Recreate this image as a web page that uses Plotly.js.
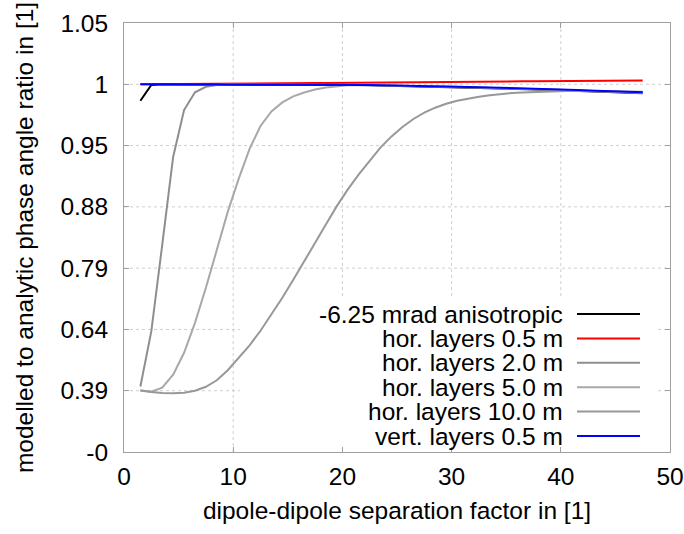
<!DOCTYPE html>
<html>
<head>
<meta charset="utf-8">
<script src="https://cdn.plot.ly/plotly-3.0.1.min.js"></script>
<style>
  html, body { margin: 0; padding: 0; background: #ffffff; }
  #chart { width: 684px; height: 534px; }
</style>
</head>
<body>
<div id="chart"></div>
<script>
// dipole-dipole separation factor
const separation = [
  1.5, 2.5, 3.5, 4.5, 5.5, 6.5, 7.5, 8.5, 9.5, 10.5,
  11.5, 12.5, 13.5, 14.5, 15.5, 16.5, 17.5, 18.5, 19.5, 20.5,
  21.5, 22.5, 23.5, 24.5, 25.5, 26.5, 27.5, 28.5, 29.5, 30.5,
  31.5, 32.5, 33.5, 34.5, 35.5, 36.5, 37.5, 38.5, 39.5, 40.5,
  41.5, 42.5, 43.5, 44.5, 45.5, 46.5, 47.5
];

// modelled / analytic phase angle ratio for each model
const anisotropic = [
  0.9866, 0.9995, 1, 1, 1, 1, 1, 1, 1, 1,
  1, 1, 1, 1, 1, 1.0000, 0.9999, 0.9998, 0.9997, 0.9996,
  0.9994, 0.9993, 0.9991, 0.9990, 0.9988, 0.9986, 0.9984, 0.9982, 0.9980, 0.9978,
  0.9975, 0.9973, 0.9970, 0.9968, 0.9965, 0.9962, 0.9959, 0.9957, 0.9954, 0.9950,
  0.9947, 0.9944, 0.9941, 0.9937, 0.9934, 0.9931, 0.9927
];
const horLayers05 = [
  1.0000, 1.0001, 1.0001, 1.0002, 1.0003, 1.0003, 1.0004, 1.0005, 1.0005, 1.0006,
  1.0007, 1.0007, 1.0008, 1.0009, 1.0009, 1.0010, 1.0011, 1.0011, 1.0012, 1.0013,
  1.0013, 1.0014, 1.0015, 1.0016, 1.0016, 1.0017, 1.0018, 1.0018, 1.0019, 1.0020,
  1.0020, 1.0021, 1.0022, 1.0022, 1.0023, 1.0024, 1.0024, 1.0025, 1.0026, 1.0026,
  1.0027, 1.0028, 1.0028, 1.0029, 1.0030, 1.0030, 1.0031
];
const horLayers20 = [
  0.407, 0.632, 0.824, 0.937, 0.979, 0.9935, 0.998, 0.9995, 1, 1,
  1, 1, 1, 1, 1, 1.0000, 0.9999, 0.9998, 0.9997, 0.9996,
  0.9995, 0.9994, 0.9992, 0.9990, 0.9988, 0.9987, 0.9985, 0.9983, 0.9981, 0.9979,
  0.9977, 0.9975, 0.9972, 0.9969, 0.9967, 0.9964, 0.9961, 0.9959, 0.9956, 0.9953,
  0.9950, 0.9947, 0.9944, 0.9940, 0.9937, 0.9934, 0.9931
];
const horLayers50 = [
  0.390, 0.3834, 0.4021, 0.4551, 0.5448, 0.6562, 0.7419, 0.8169, 0.8726, 0.9119,
  0.9462, 0.9660, 0.9778, 0.9852, 0.9901, 0.9933, 0.9958, 0.9974, 0.9986, 0.9993,
  0.9995, 0.9994, 0.9992, 0.9990, 0.9988, 0.9987, 0.9985, 0.9983, 0.9981, 0.9979,
  0.9977, 0.9975, 0.9972, 0.9969, 0.9967, 0.9964, 0.9961, 0.9959, 0.9956, 0.9953,
  0.9950, 0.9947, 0.9944, 0.9940, 0.9937, 0.9934, 0.9931
];
const horLayers100 = [
  0.392, 0.3815, 0.3758, 0.3739, 0.3771, 0.3898, 0.4062, 0.4327, 0.4734, 0.5224,
  0.5753, 0.6345, 0.6758, 0.7174, 0.7614, 0.7993, 0.8264, 0.8543, 0.8811, 0.9000,
  0.9171, 0.9331, 0.9479, 0.9575, 0.9652, 0.9717, 0.9769, 0.9809, 0.9841, 0.9866,
  0.9884, 0.9899, 0.9911, 0.9921, 0.9928, 0.9933, 0.9937, 0.9941, 0.9943, 0.9945,
  0.9945, 0.9945, 0.9945, 0.9943, 0.9942, 0.9941, 0.9939
];
const vertLayers05 = [
  1, 1, 1, 1, 1, 1, 1, 1, 1, 1,
  1, 1, 1, 1, 1, 1.0000, 0.9999, 0.9998, 0.9997, 0.9996,
  0.9995, 0.9994, 0.9992, 0.9991, 0.9989, 0.9988, 0.9986, 0.9984, 0.9982, 0.9980,
  0.9978, 0.9976, 0.9974, 0.9971, 0.9969, 0.9966, 0.9964, 0.9961, 0.9959, 0.9956,
  0.9953, 0.9950, 0.9947, 0.9944, 0.9941, 0.9938, 0.9935
];

const seriesNames = [
  '-6.25 mrad anisotropic',
  'hor. layers 0.5 m',
  'hor. layers 2.0 m',
  'hor. layers 5.0 m',
  'hor. layers 10.0 m',
  'vert. layers 0.5 m'
];

// ratio axis: the tick values sit at equal spacing, the axis is stretched towards 1
const yTickValues = [0, 0.39, 0.64, 0.79, 0.88, 0.95, 1, 1.05];
const yTickLabels = ['-0', '0.39', '0.64', '0.79', '0.88', '0.95', '1', '1.05'];
const xTickValues = [0, 10, 20, 30, 40, 50];

// map a ratio onto the stretched axis (piecewise linear between tick values)
function stretch(v) {
  const n = yTickValues.length;
  if (v <= yTickValues[0]) return 0;
  for (let i = 1; i < n; i++) {
    if (v <= yTickValues[i]) {
      return (i - 1) + (v - yTickValues[i - 1]) / (yTickValues[i] - yTickValues[i - 1]);
    }
  }
  return (n - 1) + (v - yTickValues[n - 1]) / (yTickValues[n - 1] - yTickValues[n - 2]);
}

const seriesValues = [anisotropic, horLayers05, horLayers20, horLayers50, horLayers100, vertLayers05];
const seriesColors = ['#000000', '#ff0000', '#8e8e8e', '#a8a8a8', '#989898', '#0000ff'];

const traces = seriesValues.map((vals, i) => ({
  type: 'scatter',
  mode: 'lines',
  name: seriesNames[i],
  x: separation,
  y: vals.map(stretch),
  line: { color: seriesColors[i], width: 2 },
  showlegend: false,
  hoverinfo: 'skip'
}));

// plot box in pixels
const M = { l: 124, r: 14, t: 23, b: 82 };
const W = 684, H = 534;
const plotW = W - M.l - M.r, plotH = H - M.t - M.b;
const px2x = px => (px - M.l) / plotW;
const px2y = py => (H - M.b - py) / plotH;

const FONT = 'Liberation Sans, Arial, Helvetica, sans-serif';
const FS = 24.5;

// dotted grid, drawn under the key box
const gridStyle = { color: '#cfcfcf', width: 1, dash: 'dot' };
const shapes = [];
xTickValues.slice(1, -1).forEach(v => shapes.push({
  type: 'line', xref: 'x', yref: 'paper', layer: 'below',
  x0: v, x1: v, y0: 0, y1: 1, line: gridStyle
}));
yTickValues.slice(1, -1).forEach((v, i) => shapes.push({
  type: 'line', xref: 'paper', yref: 'y', layer: 'below',
  x0: 0, x1: 1, y0: i + 1, y1: i + 1, line: gridStyle
}));

// key: right-aligned labels with a line sample on their right, on a white box
shapes.push({
  type: 'rect', xref: 'paper', yref: 'paper', layer: 'below',
  x0: px2x(240), x1: px2x(656), y0: 0, y1: px2y(299),
  fillcolor: '#ffffff', line: { width: 0 }
});
const keyTop = 314, keyStep = 24.4;
const annotations = [];
seriesNames.forEach((name, i) => {
  const py = keyTop + i * keyStep;
  annotations.push({
    xref: 'paper', yref: 'paper', x: px2x(565), y: px2y(py),
    xanchor: 'right', yanchor: 'middle', showarrow: false,
    text: name, font: { family: FONT, size: FS, color: '#000000' }
  });
  shapes.push({
    type: 'line', xref: 'paper', yref: 'paper', layer: 'above',
    x0: px2x(577), x1: px2x(640), y0: px2y(py), y1: px2y(py),
    line: { color: seriesColors[i], width: 2 }
  });
});

const axisCommon = {
  showline: true, linecolor: '#a0a0a0', linewidth: 1, mirror: 'ticks',
  ticks: 'inside', ticklen: 5, tickcolor: '#a0a0a0', tickwidth: 1,
  showgrid: false, zeroline: false,
  tickfont: { family: FONT, size: FS, color: '#000000' }
};

const layout = {
  width: W, height: H,
  margin: M,
  paper_bgcolor: '#ffffff', plot_bgcolor: '#ffffff',
  showlegend: false,
  xaxis: Object.assign({}, axisCommon, {
    range: [0, 50], tickmode: 'array', tickvals: xTickValues,
    ticklabelstandoff: 3,
    title: { text: 'dipole-dipole separation factor in [1]', standoff: 12,
             font: { family: FONT, size: FS, color: '#000000' } }
  }),
  yaxis: Object.assign({}, axisCommon, {
    range: [0, yTickValues.length - 1], tickmode: 'array',
    tickvals: yTickValues.map((v, i) => i), ticktext: yTickLabels,
    ticklabelstandoff: 10,
    title: { text: 'modelled to analytic phase angle ratio in [1]', standoff: 19,
             font: { family: FONT, size: FS, color: '#000000' } }
  }),
  shapes: shapes,
  annotations: annotations
};

Plotly.newPlot('chart', traces, layout, { staticPlot: true, displayModeBar: false });
</script>
</body>
</html>
